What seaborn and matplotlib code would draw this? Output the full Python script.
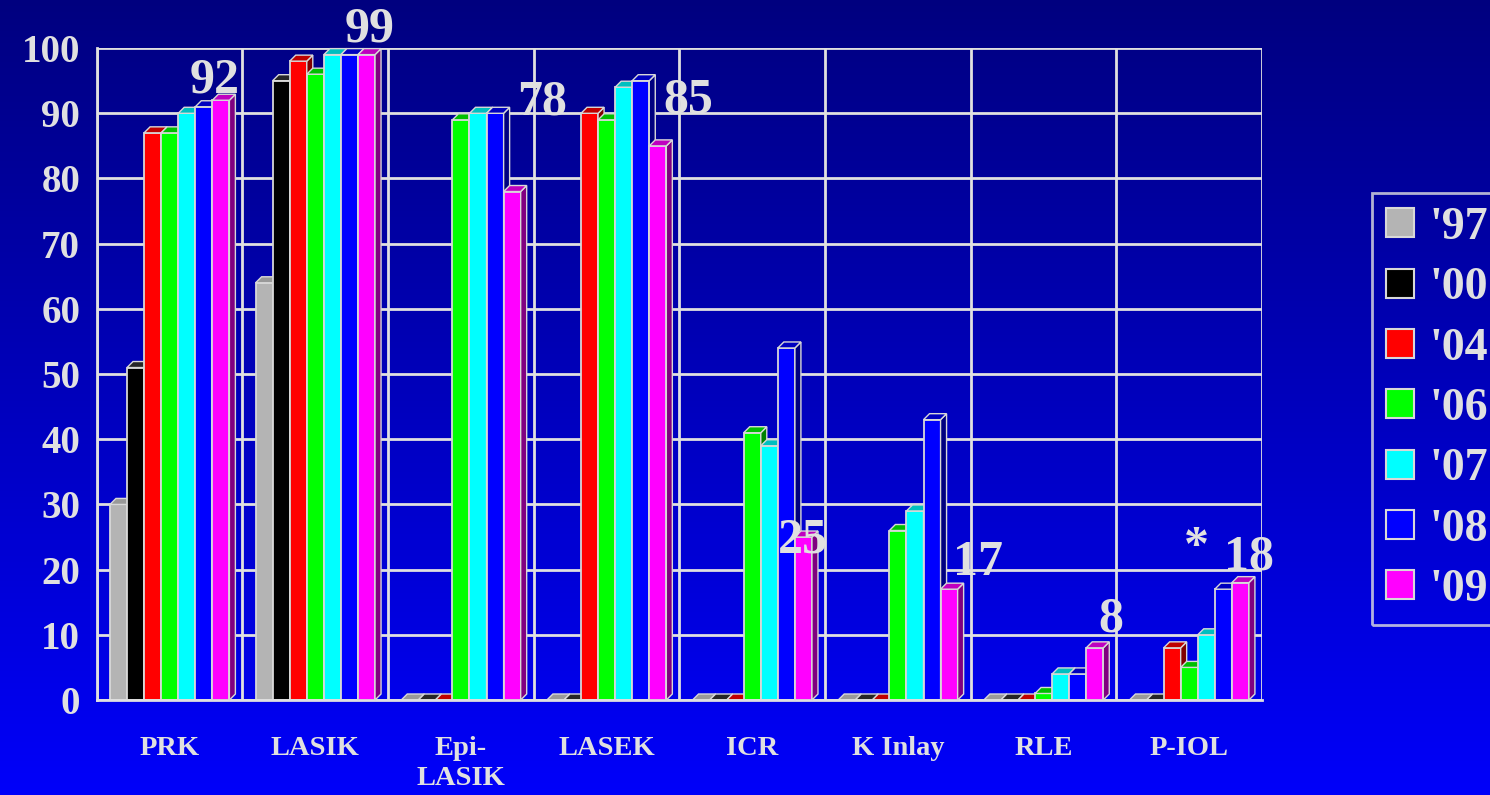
import numpy as np
import pandas as pd
import matplotlib
matplotlib.use("Agg")
import matplotlib.pyplot as plt
from matplotlib.patches import Polygon, Patch
from matplotlib.colors import to_rgb
import seaborn as sns

# --- datos ---
procedimientos = ["PRK", "LASIK", "Epi-\nLASIK", "LASEK", "ICR", "K Inlay", "RLE", "P-IOL"]
anios = ["'97", "'00", "'04", "'06", "'07", "'08", "'09"]
v97 = [30, 64, 0, 0, 0, 0, 0, 0]
v00 = [51, 95, 0, 0, 0, 0, 0, 0]
v04 = [87, 98, 0, 90, 0, 0, 0, 8]
v06 = [87, 96, 89, 89, 41, 26, 1, 5]
v07 = [90, 99, 90, 94, 39, 29, 4, 10]
v08 = [91, 99, 90, 95, 54, 43, 4, 17]
v09 = [92, 99, 78, 85, 25, 17, 8, 18]
colores = ["#B4B4B4", "#000000", "#FF0000", "#00FF00", "#00FFFF", "#0000FF", "#FF00FF"]
etiquetas = ["92", "99", "78", "85", "25", "17", "8", "18"]

series = [v97, v00, v04, v06, v07, v08, v09]
df = pd.DataFrame({
    "proc": procedimientos * len(anios),
    "anio": np.repeat(anios, len(procedimientos)),
    "valor": np.concatenate(series),
})

sns.set_theme(style="white")
plt.rcParams["font.family"] = ["Liberation Serif", "DejaVu Serif"]
plt.rcParams["font.weight"] = "bold"
gris = "#E0E0E0"

fig = plt.figure(figsize=(14.9, 7.95), dpi=100)

# fondo degradado
bg = fig.add_axes([0, 0, 1, 1], zorder=-10)
grad = np.linspace(0, 1, 256)
img = np.zeros((256, 1, 3))
img[:, 0, 2] = 0.50 + 0.48 * grad
bg.imshow(img, aspect="auto", extent=[0, 1, 0, 1])
bg.set_axis_off()

ax = fig.add_axes([0.065, 0.1195, 0.782, 0.82])
ax.set_facecolor("none")

sns.barplot(data=df, x="proc", y="valor", hue="anio", palette=colores,
            width=0.82, edgecolor="#D8D8D8", linewidth=1.3, ax=ax,
            legend=False, saturation=1)

ax.set_xlim(-0.5, 7.5)
ax.set_ylim(0, 100)

# efecto 3D
bbox = ax.get_window_extent()
dx = 6 / (bbox.width / 8)
dy = 6 / (bbox.height / 100)
for k, cont in enumerate(ax.containers):
    base = np.array(to_rgb(colores[k]))
    if k == 0:
        base_top, base_side = base * 0.85, base * 0.6
    elif k == 1:
        base_top, base_side = np.array([0.15] * 3), np.array([0.1] * 3)
    else:
        base_top, base_side = base * 0.75, base * 0.5
    for rect in cont.patches:
        rect.set_zorder(2 + k * 0.1)
        x0 = rect.get_x()
        x1 = x0 + rect.get_width()
        h = rect.get_height()
        top = Polygon([(x0, h), (x1, h), (x1 + dx, h + dy), (x0 + dx, h + dy)],
                      closed=True, facecolor=base_top, edgecolor="#D8D8D8",
                      linewidth=1.0, zorder=2 + k * 0.1 + 0.01, clip_on=False)
        side = Polygon([(x1, 0), (x1 + dx, dy), (x1 + dx, h + dy), (x1, h)],
                       closed=True, facecolor=base_side, edgecolor="#D8D8D8",
                       linewidth=1.0, zorder=2 + k * 0.1 + 0.01, clip_on=False)
        ax.add_patch(side)
        ax.add_patch(top)

# rejilla
ax.set_yticks(range(0, 101, 10))
ax.set_xticks(np.arange(-0.5, 8, 1), minor=True)
ax.grid(True, axis="y", color=gris, linewidth=2)
ax.grid(True, axis="x", which="minor", color=gris, linewidth=2)
ax.set_axisbelow(True)

ax.set_xticks(range(len(procedimientos)))
ax.set_xticklabels(procedimientos, fontsize=20.5, fontweight="bold", color=gris,
                   linespacing=1.25, va="top")
ax.tick_params(axis="x", which="major", length=0, pad=26)
ax.tick_params(axis="x", which="minor", length=10, width=2, color=gris, direction="out")
ax.tick_params(axis="y", length=8, width=2, color=gris, direction="out", pad=4)
for t in ax.get_yticklabels():
    t.set_fontsize(28)
    t.set_fontweight("bold")
    t.set_color(gris)
ax.set_xlabel("")
ax.set_ylabel("")
for s in ["top", "right"]:
    ax.spines[s].set_visible(False)
for s in ["left", "bottom"]:
    ax.spines[s].set_color(gris)
    ax.spines[s].set_linewidth(2)

# etiquetas de valores
pos_etq = [(0.31, 95), (1.375, 102.8), (2.56, 91.6), (3.56, 91.9),
           (4.35, 24.5), (5.55, 21), (6.46, 12.3), (7.41, 21.9)]
for (x, y), txt in zip(pos_etq, etiquetas):
    ax.text(x, y, txt, ha="center", va="center", fontsize=36, fontweight="bold",
            color=gris, zorder=10, clip_on=False)
ax.text(7.05, 23.3, "*", ha="center", va="center", fontsize=36,
        color=gris, zorder=10, clip_on=False)

# leyenda
handles = [Patch(facecolor=c, edgecolor="#D8D8D8", linewidth=1.5) for c in colores]
leg = fig.legend(handles, anios, loc="upper left", bbox_to_anchor=(0.921, 0.757),
                 frameon=True, fancybox=False, fontsize=33, handlelength=0.6,
                 handleheight=0.6, handletextpad=0.35, labelspacing=0.4,
                 borderpad=0.3, borderaxespad=0)
leg.get_frame().set_facecolor("none")
leg.get_frame().set_edgecolor(gris)
leg.get_frame().set_linewidth(2)
for t in leg.get_texts():
    t.set_color(gris)
    t.set_fontweight("bold")

fig.savefig("out.png", dpi=100)
